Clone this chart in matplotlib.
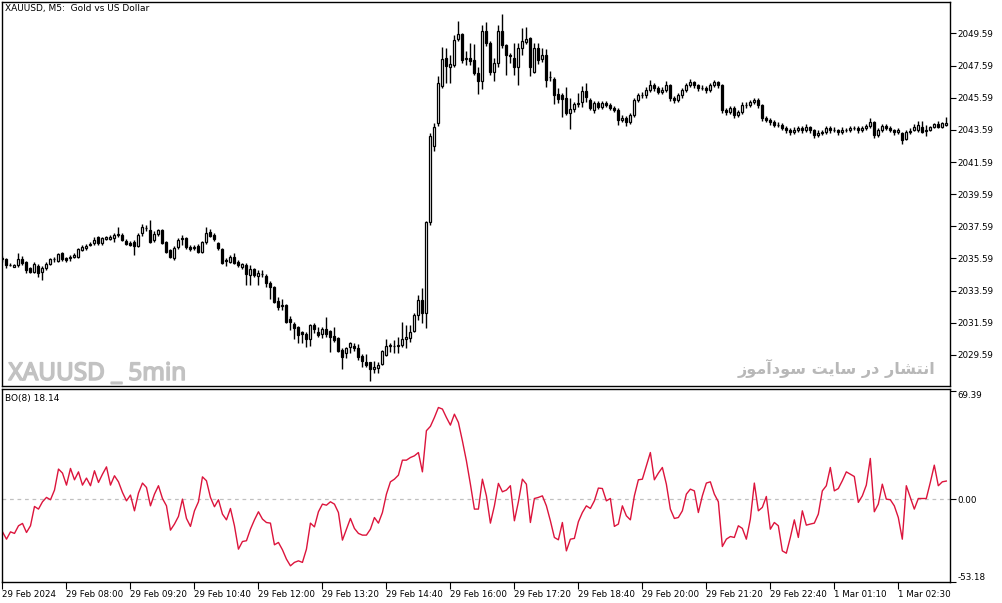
import matplotlib.pyplot as plt
import matplotlib.patheffects as pe
import numpy as np

# XAUUSD M5 candles, bar 0 = 29 Feb 2024 06:40
opens = [2035.60, 2035.54, 2035.19, 2035.09, 2035.19, 2035.55, 2035.35, 2034.98, 2034.78, 2035.15,
         2034.72, 2034.98, 2035.25, 2035.54, 2035.46, 2035.91, 2035.60, 2035.62, 2035.67, 2035.71,
         2036.12, 2036.23, 2036.45, 2036.54, 2036.91, 2036.54, 2036.80, 2036.82, 2036.85, 2037.05,
         2037.05, 2036.70, 2036.58, 2036.60, 2036.38, 2037.16, 2037.50, 2037.36, 2036.74, 2037.10,
         2037.36, 2036.64, 2036.12, 2035.60, 2036.29, 2036.85, 2036.85, 2036.33, 2036.25, 2036.37,
         2035.97, 2036.60, 2037.26, 2037.05, 2036.54, 2036.16, 2035.50, 2035.40, 2035.71, 2035.40,
         2035.09, 2035.19, 2034.57, 2034.92, 2034.51, 2034.65, 2034.51, 2034.05, 2033.84, 2032.95,
         2032.70, 2032.70, 2031.81, 2031.52, 2031.36, 2031.04, 2030.90, 2030.57, 2031.46, 2031.04,
         2030.88, 2031.19, 2031.09, 2030.78, 2030.67, 2029.91, 2029.70, 2030.07, 2030.15, 2030.01,
         2029.53, 2029.14, 2029.14, 2028.70, 2028.81, 2029.01, 2029.60, 2030.15, 2030.15, 2030.15,
         2030.22, 2030.57, 2030.67, 2031.11, 2032.08, 2033.01, 2032.18, 2037.84, 2042.60, 2043.99,
         2046.31, 2048.03, 2047.47, 2047.62, 2049.21, 2049.55, 2048.00, 2048.03, 2047.93, 2047.10,
         2046.60, 2049.73, 2049.01, 2047.21, 2047.72, 2049.73, 2048.86, 2048.24, 2048.03, 2047.47,
         2048.70, 2049.06, 2049.28, 2047.21, 2048.66, 2047.97, 2048.24, 2046.89, 2046.73, 2045.82,
         2045.75, 2045.55, 2044.62, 2044.86, 2045.21, 2045.34, 2046.02, 2045.44, 2044.82, 2045.24,
         2045.03, 2045.26, 2045.13, 2044.95, 2044.82, 2044.20, 2044.32, 2044.08, 2044.51, 2045.44,
         2045.75, 2045.75, 2046.07, 2046.38, 2046.19, 2045.94, 2046.07, 2046.38, 2045.57, 2045.44,
         2045.75, 2046.07, 2046.38, 2046.56, 2046.38, 2046.19, 2046.19, 2046.07, 2046.38, 2046.56,
         2046.38, 2044.82, 2044.70, 2044.95, 2044.51, 2044.70, 2045.13, 2045.13, 2045.32, 2045.44,
         2045.13, 2044.32, 2044.20, 2044.08, 2043.89, 2043.89, 2043.70, 2043.58, 2043.45, 2043.58,
         2043.70, 2043.58, 2043.76, 2043.58, 2043.27, 2043.39, 2043.45, 2043.70, 2043.58, 2043.58,
         2043.45, 2043.58, 2043.58, 2043.70, 2043.70, 2043.58, 2043.70, 2043.83, 2044.08, 2043.27,
         2043.58, 2043.83, 2043.70, 2043.58, 2043.45, 2043.37, 2043.00, 2043.46, 2043.58, 2043.58,
         2043.75, 2043.52, 2043.58, 2043.75, 2043.95, 2043.79, 2043.87]
highs = [2035.75, 2035.65, 2035.30, 2035.25, 2035.91, 2035.75, 2035.45, 2035.05, 2035.35, 2035.25,
         2035.10, 2035.35, 2035.60, 2035.70, 2035.95, 2036.00, 2035.70, 2035.78, 2035.90, 2036.25,
         2036.45, 2036.50, 2036.60, 2036.95, 2037.00, 2036.95, 2037.00, 2037.05, 2037.15, 2037.57,
         2037.20, 2036.80, 2036.65, 2036.75, 2037.20, 2037.75, 2037.65, 2037.99, 2037.30, 2037.45,
         2037.45, 2036.70, 2036.20, 2036.35, 2036.85, 2037.05, 2036.95, 2036.40, 2036.45, 2036.50,
         2036.70, 2037.57, 2037.40, 2037.15, 2036.60, 2036.25, 2035.60, 2035.80, 2035.90, 2035.50,
         2035.30, 2035.30, 2035.19, 2035.00, 2034.88, 2034.88, 2034.63, 2034.20, 2033.90, 2033.18,
         2033.05, 2032.75, 2032.02, 2031.67, 2031.40, 2031.10, 2031.04, 2031.52, 2031.60, 2031.30,
         2031.36, 2031.94, 2031.15, 2031.36, 2030.73, 2030.01, 2030.11, 2030.42, 2030.36, 2030.26,
         2029.66, 2029.64, 2029.18, 2029.24, 2029.18, 2029.91, 2030.59, 2030.36, 2030.53, 2030.73,
         2031.67, 2031.46, 2031.46, 2032.18, 2033.32, 2033.78, 2037.90, 2043.40, 2044.04, 2046.94,
         2048.72, 2048.66, 2048.24, 2049.48, 2050.35, 2049.60, 2048.51, 2048.97, 2048.92, 2047.52,
         2050.11, 2050.31, 2049.10, 2048.03, 2050.11, 2050.79, 2048.95, 2048.35, 2048.97, 2048.97,
         2049.90, 2050.00, 2049.35, 2049.00, 2048.97, 2048.66, 2048.60, 2047.27, 2046.90, 2046.17,
         2045.90, 2046.23, 2045.55, 2045.34, 2045.86, 2046.31, 2046.52, 2045.55, 2045.40, 2045.40,
         2045.40, 2045.40, 2045.25, 2045.10, 2044.95, 2044.50, 2044.45, 2044.65, 2045.60, 2045.90,
         2045.95, 2046.25, 2046.70, 2046.50, 2046.30, 2046.25, 2046.60, 2046.45, 2045.70, 2045.90,
         2046.20, 2046.50, 2046.75, 2046.65, 2046.45, 2046.35, 2046.30, 2046.50, 2046.70, 2046.65,
         2046.45, 2044.95, 2045.10, 2045.05, 2044.85, 2045.30, 2045.30, 2045.45, 2045.60, 2045.55,
         2045.20, 2044.45, 2044.30, 2044.20, 2044.05, 2044.00, 2043.85, 2043.70, 2043.75, 2043.85,
         2043.80, 2043.95, 2043.85, 2043.65, 2043.55, 2043.60, 2043.85, 2043.80, 2043.75, 2043.65,
         2043.75, 2043.70, 2043.85, 2043.85, 2043.80, 2043.85, 2043.95, 2044.30, 2044.15, 2043.70,
         2043.95, 2043.95, 2043.80, 2043.65, 2043.70, 2043.45, 2043.55, 2043.70, 2043.95, 2044.16,
         2044.16, 2043.89, 2043.85, 2044.00, 2044.16, 2044.10, 2044.37]
lows = [2035.40, 2035.00, 2035.10, 2035.05, 2035.09, 2035.20, 2034.67, 2034.70, 2034.70, 2034.46,
        2034.26, 2034.90, 2035.20, 2035.40, 2035.35, 2035.45, 2035.40, 2035.45, 2035.60, 2035.65,
        2036.05, 2036.10, 2036.35, 2036.45, 2036.45, 2036.40, 2036.75, 2036.75, 2036.60, 2036.95,
        2036.65, 2036.40, 2036.35, 2035.81, 2036.30, 2037.00, 2037.30, 2036.55, 2036.60, 2037.00,
        2036.50, 2035.90, 2035.60, 2035.50, 2036.20, 2036.40, 2036.20, 2036.05, 2036.10, 2035.90,
        2035.90, 2036.50, 2036.90, 2036.70, 2036.10, 2035.25, 2035.10, 2035.30, 2035.25, 2035.05,
        2034.95, 2033.95, 2033.95, 2034.46, 2033.95, 2034.46, 2033.84, 2033.05, 2032.85, 2032.39,
        2032.39, 2031.56, 2031.15, 2030.57, 2030.36, 2030.36, 2030.11, 2030.17, 2030.94, 2030.69,
        2030.63, 2030.73, 2029.80, 2030.42, 2029.80, 2028.70, 2029.39, 2029.70, 2029.86, 2029.28,
        2028.87, 2028.87, 2027.94, 2028.45, 2028.45, 2028.97, 2029.55, 2029.80, 2029.72, 2029.72,
        2030.11, 2030.01, 2030.42, 2031.04, 2031.77, 2031.56, 2031.25, 2037.70, 2042.30, 2043.80,
        2046.20, 2046.52, 2046.52, 2047.50, 2049.10, 2047.72, 2047.62, 2047.62, 2047.00, 2045.82,
        2046.11, 2048.80, 2047.00, 2046.65, 2047.50, 2048.70, 2047.00, 2047.72, 2047.00, 2046.38,
        2048.24, 2048.90, 2046.94, 2047.10, 2047.70, 2047.80, 2046.23, 2046.60, 2045.19, 2045.24,
        2044.41, 2044.50, 2043.62, 2044.70, 2045.00, 2045.03, 2045.30, 2044.80, 2044.62, 2044.90,
        2044.90, 2045.00, 2044.80, 2044.70, 2043.90, 2044.05, 2043.80, 2043.95, 2044.40, 2045.30,
        2045.55, 2045.60, 2045.95, 2046.00, 2045.80, 2045.80, 2045.95, 2045.40, 2045.25, 2045.30,
        2045.60, 2045.95, 2046.25, 2046.20, 2046.00, 2046.05, 2045.90, 2045.95, 2046.25, 2046.20,
        2044.65, 2044.50, 2044.55, 2044.30, 2044.40, 2044.60, 2044.95, 2045.00, 2045.20, 2044.95,
        2044.15, 2044.05, 2043.90, 2043.75, 2043.75, 2043.55, 2043.40, 2043.30, 2043.35, 2043.45,
        2043.40, 2043.45, 2043.40, 2043.10, 2043.15, 2043.25, 2043.35, 2043.40, 2043.45, 2043.30,
        2043.35, 2043.45, 2043.45, 2043.55, 2043.40, 2043.45, 2043.60, 2043.70, 2043.10, 2043.15,
        2043.45, 2043.55, 2043.45, 2043.30, 2043.35, 2042.70, 2042.95, 2043.35, 2043.50, 2043.48,
        2043.40, 2043.20, 2043.50, 2043.70, 2043.70, 2043.72, 2043.80]
closes = [2035.55, 2035.19, 2035.17, 2035.19, 2035.54, 2035.29, 2034.88, 2034.78, 2035.25, 2034.67,
          2034.98, 2035.25, 2035.54, 2035.58, 2035.87, 2035.54, 2035.50, 2035.67, 2035.81, 2036.16,
          2036.33, 2036.37, 2036.50, 2036.74, 2036.54, 2036.85, 2036.90, 2036.95, 2037.05, 2037.10,
          2036.74, 2036.50, 2036.43, 2036.38, 2037.05, 2037.53, 2037.48, 2036.64, 2037.12, 2037.36,
          2036.58, 2036.02, 2035.71, 2036.27, 2036.74, 2036.83, 2036.33, 2036.20, 2036.33, 2036.02,
          2036.64, 2037.16, 2037.00, 2036.80, 2036.23, 2035.33, 2035.45, 2035.71, 2035.33, 2035.19,
          2035.25, 2034.63, 2034.92, 2034.57, 2034.71, 2034.60, 2034.05, 2033.84, 2032.91, 2032.60,
          2032.66, 2031.67, 2031.67, 2031.29, 2030.84, 2030.88, 2030.57, 2031.46, 2031.19, 2030.84,
          2031.19, 2030.90, 2030.73, 2030.53, 2029.84, 2029.45, 2030.01, 2030.36, 2030.01, 2029.49,
          2029.24, 2028.97, 2028.70, 2028.87, 2028.97, 2029.84, 2030.15, 2030.20, 2030.12, 2030.22,
          2030.57, 2030.73, 2031.00, 2032.08, 2033.01, 2032.18, 2037.84, 2043.20, 2043.79, 2046.52,
          2047.97, 2047.56, 2047.68, 2049.17, 2049.55, 2047.93, 2048.03, 2047.89, 2047.10, 2046.65,
          2049.73, 2048.97, 2047.21, 2047.72, 2049.73, 2048.86, 2048.24, 2048.20, 2047.47, 2048.70,
          2049.13, 2049.21, 2047.47, 2048.66, 2047.93, 2048.24, 2046.69, 2046.85, 2045.75, 2045.49,
          2045.49, 2044.66, 2044.86, 2045.17, 2045.24, 2046.02, 2045.61, 2044.93, 2045.28, 2045.03,
          2045.26, 2045.13, 2044.95, 2044.82, 2044.20, 2044.32, 2044.08, 2044.51, 2045.44, 2045.75,
          2045.75, 2046.07, 2046.38, 2046.19, 2045.94, 2046.07, 2046.38, 2045.57, 2045.44, 2045.75,
          2046.07, 2046.38, 2046.56, 2046.38, 2046.19, 2046.19, 2046.07, 2046.38, 2046.56, 2046.38,
          2044.82, 2044.70, 2044.95, 2044.51, 2044.70, 2045.13, 2045.13, 2045.32, 2045.44, 2045.13,
          2044.32, 2044.20, 2044.08, 2043.89, 2043.89, 2043.70, 2043.58, 2043.45, 2043.58, 2043.70,
          2043.58, 2043.76, 2043.58, 2043.27, 2043.39, 2043.45, 2043.70, 2043.58, 2043.58, 2043.45,
          2043.58, 2043.58, 2043.70, 2043.70, 2043.58, 2043.70, 2043.83, 2044.08, 2043.27, 2043.58,
          2043.83, 2043.70, 2043.58, 2043.45, 2043.58, 2042.96, 2043.48, 2043.50, 2043.79, 2043.89,
          2043.48, 2043.56, 2043.79, 2043.95, 2043.75, 2044.03, 2044.03]

# BO(8) indicator, one value per bar
bo = [-21.0, -25.7, -21.0, -22.0, -17.1, -15.6, -21.4, -17.1, -4.7, -6.4,
      -1.7, 1.1, -0.4, 5.8, 19.3, 16.7, 9.0, 19.7, 12.4, 17.5,
      9.0, 13.5, 8.6, 18.2, 10.7, 16.0, 20.7, 9.0, 15.0, 11.1,
      4.3, -1.1, 2.6, -7.5, 3.9, 10.3, 7.5, -4.3, 3.2, 8.6,
      0.4, -4.3, -19.9, -16.0, -11.1, 0.0, -12.4, -17.5, -7.5, -1.7,
      14.3, 11.8, 1.1, -4.9, -0.4, -9.6, -13.3, -6.0, -17.1, -32.1,
      -27.2, -26.7, -19.3, -13.3, -8.1, -12.8, -15.0, -15.4, -29.3, -27.8,
      -32.5, -38.5, -42.8, -40.6, -39.6, -40.6, -32.1, -15.4, -17.8, -8.1,
      -3.2, -3.9, -1.7, -3.2, -8.6, -26.3, -19.3, -12.4, -18.8, -22.0,
      -23.1, -23.1, -19.3, -11.8, -15.4, -8.6, 3.2, 11.1, 12.8, 15.4,
      25.0, 25.0, 26.7, 27.8, 29.9, 17.5, 43.9, 46.7, 52.4, 58.8,
      57.8, 52.4, 47.5, 54.5, 49.2, 37.4, 24.6, 9.6, -6.4, -6.4,
      12.8, 2.1, -15.4, -4.3, 10.1, 4.7, 5.8, 8.6, -13.9, -1.7,
      12.8, 9.6, -15.0, 0.4, 1.1, 2.1, -4.3, -13.9, -24.6, -26.1,
      -15.0, -33.2, -25.7, -25.2, -14.5, -8.6, -4.3, -6.0, -1.1, 7.1,
      6.8, -1.1, 0.4, -17.5, -16.0, -4.3, -10.7, -13.3, 2.1, 12.4,
      12.8, 21.4, 29.9, 12.4, 16.7, 20.3, 9.6, -6.4, -12.4, -11.8,
      -7.5, 3.2, 6.4, 5.3, -8.6, 2.1, 10.3, 11.1, 3.2, -1.7,
      -30.4, -25.7, -24.0, -24.6, -17.1, -18.8, -25.7, -12.8, 10.3, -7.5,
      -5.3, 1.7, -19.3, -15.0, -17.1, -33.2, -34.7, -24.6, -13.3, -24.6,
      -7.5, -16.7, -16.0, -15.4, -9.6, 5.3, 8.6, 20.3, 5.3, 6.8,
      11.8, 17.5, 16.0, 14.5, -2.1, 2.1, 9.0, 26.1, -8.1, -3.2,
      9.6, 0.0, -0.4, -4.3, -11.8, -25.7, 8.6, 1.1, -6.4, 0.4,
      0.4, 0.4, 10.7, 21.8, 8.6, 11.1, 11.6]

time_labels = ["29 Feb 2024", "29 Feb 08:00", "29 Feb 09:20", "29 Feb 10:40", "29 Feb 12:00",
               "29 Feb 13:20", "29 Feb 14:40", "29 Feb 16:00", "29 Feb 17:20", "29 Feb 18:40",
               "29 Feb 20:00", "29 Feb 21:20", "29 Feb 22:40", "1 Mar 01:10", "1 Mar 02:30"]
label_step = 16

price_ticks = [2029.59, 2031.59, 2033.59, 2035.59, 2037.59, 2039.59,
               2041.59, 2043.59, 2045.59, 2047.59, 2049.59]
bo_ticks = [69.39, 0.00, -53.18]

# Persian watermark "انتشار در سایت سودآموز" written in shaped presentation forms, visual order
watermark_fa = ("\uFEAF\uFEEE\uFEE3\uFE81\uFEA9\uFEEE\uFEB3 \uFE96\uFBFE\uFE8E\uFEB3 "
                "\uFEAD\uFEA9 \uFEAD\uFE8E\uFEB8\uFE98\uFEE7\uFE8D")

plt.rcParams['font.family'] = ['DejaVu Sans']
W, H = 1003, 603
fig = plt.figure(figsize=(W / 100, H / 100), dpi=100)
fig.patch.set_facecolor('white')

ax = fig.add_axes([2.5 / W, 1 - 386 / H, 948 / W, 384 / H])
ax2 = fig.add_axes([2.5 / W, 1 - 582 / H, 948 / W, 193.5 / H])

o = np.array(opens)
c = np.array(closes)
hi = np.array(highs)
lo = np.array(lows)
x = np.arange(len(o))
up = c >= o
bottom = np.minimum(o, c)
height = np.maximum(np.abs(c - o), 0.02)

ax.vlines(x, lo, hi, color='black', linewidth=1.0, zorder=2)
ax.bar(x[up], height[up], bottom=bottom[up], width=0.5, facecolor='white',
       edgecolor='black', linewidth=0.9, zorder=3)
ax.bar(x[~up], height[~up], bottom=bottom[~up], width=0.5, facecolor='black',
       edgecolor='black', linewidth=0.9, zorder=3)

xmin, xmax = 0.05, 237.05
ax.set_xlim(xmin, xmax)
ax.set_ylim(2027.66, 2051.54)
ax.set_xticks([])
ax.yaxis.tick_right()
ax.set_yticks(price_ticks)
ax.set_yticklabels([f"{v:.2f}" for v in price_ticks])

ax2.plot(np.arange(len(bo)), bo, color='#dc143c', linewidth=1.0)
ax2.axhline(0, color='#c0c0c0', linewidth=0.9, linestyle=(0, (3, 3)), zorder=0)
ax2.set_xlim(xmin, xmax)
ax2.set_ylim(-53.18, 70.99)
ax2.yaxis.tick_right()
ax2.set_yticks(bo_ticks)
ax2.set_yticklabels([f"{v:.2f}" for v in bo_ticks])
ax2.set_xticks(np.arange(len(time_labels)) * label_step)
ax2.set_xticklabels(time_labels, ha='left')

for a in (ax, ax2):
    for s in a.spines.values():
        s.set_color('black')
        s.set_linewidth(1.0)
    a.tick_params(axis='y', direction='out', length=4, width=0.8, pad=1,
                  labelsize=6.3, colors='black')
ax2.tick_params(axis='x', direction='out', length=5, width=0.8, pad=1, labelsize=6.3)

lbls = ax2.get_yticklabels()
lbls[0].set_va('top')
lbls[2].set_va('bottom')

fig.text(5 / W, 1 - 8.5 / H, "XAUUSD, M5:  Gold vs US Dollar", fontsize=6.5,
         va='center', ha='left')
fig.text(5 / W, 1 - 398.5 / H, "BO(8) 18.14", fontsize=6.5, va='center', ha='left')

wm_color = '#c2c2c2'
fig.text(8.5 / W, 1 - 380 / H, "XAUUSD _ 5min", fontsize=17.5, fontweight='bold',
         fontstretch='extra-condensed',
         family=['Noto Sans ExtraCondensed', 'Noto Sans Condensed', 'Liberation Sans Narrow',
                 'DejaVu Sans Condensed', 'Noto Sans', 'DejaVu Sans'],
         color=wm_color, va='baseline', ha='left',
         path_effects=[pe.withStroke(linewidth=1.1, foreground=wm_color)])
fig.text(935 / W, 1 - 368 / H, watermark_fa, fontsize=11.5, fontweight='bold',
         color='#b8b8b8', va='center', ha='right')

fig.savefig('out.png', dpi=100)
